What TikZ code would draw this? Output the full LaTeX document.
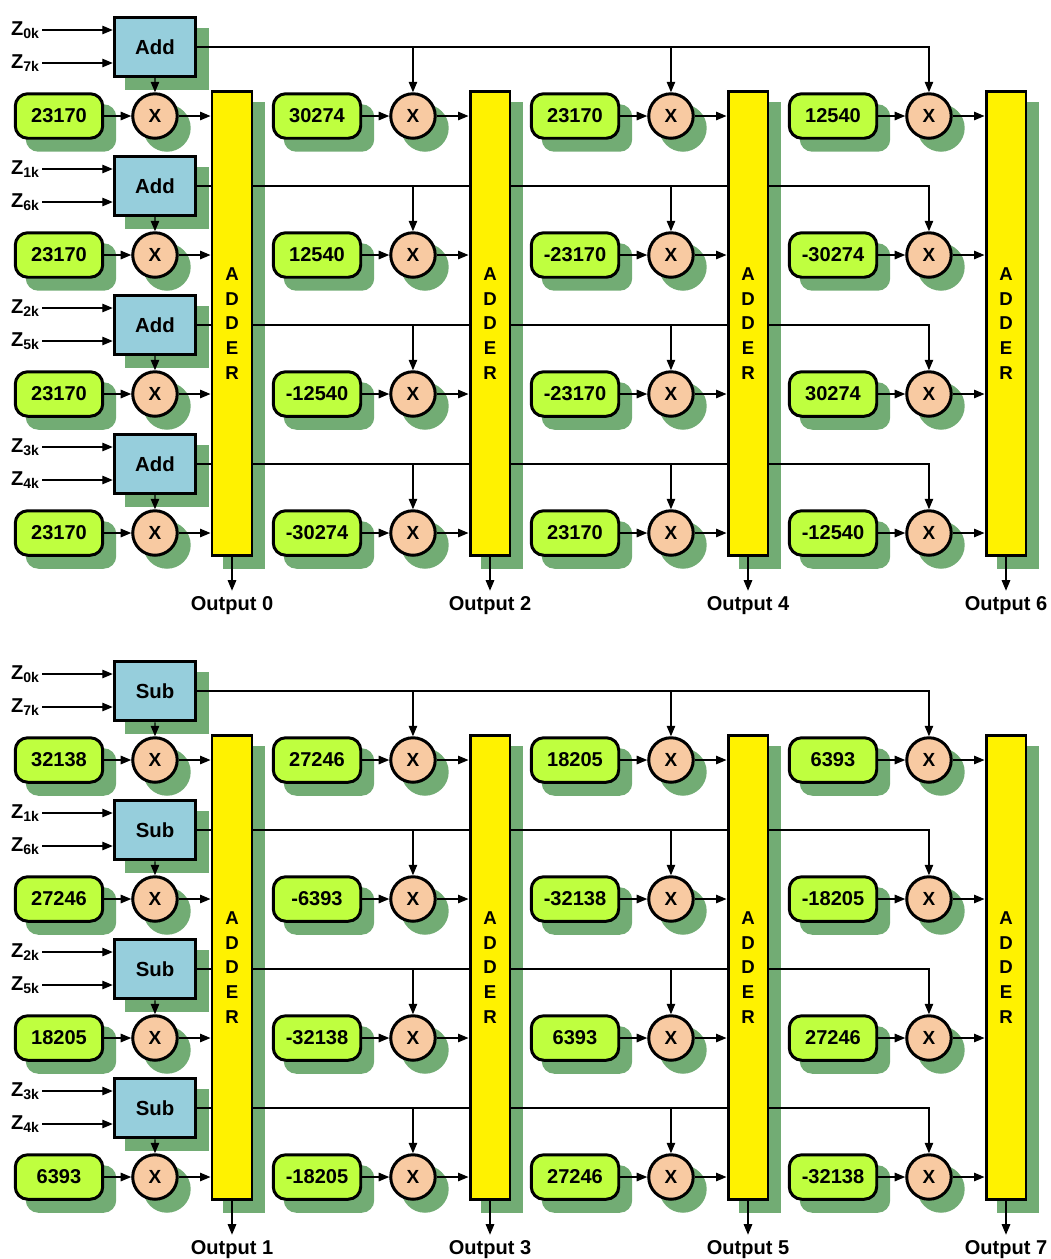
\documentclass[tikz,border=0pt]{standalone}
\usepackage{fontspec}
\setmainfont{Liberation Sans}
\usetikzlibrary{arrows.meta,positioning,calc}
\definecolor{coefgreen}{RGB}{191,255,63}
\definecolor{mulpeach}{RGB}{248,202,162}
\definecolor{addblue}{RGB}{150,206,220}
\definecolor{shadowgreen}{RGB}{114,172,116}
\pgfdeclarelayer{background}
\pgfdeclarelayer{wires}
\pgfsetlayers{background,wires,main}

\begin{document}
\begin{tikzpicture}[
    x=0.02cm, y=-0.02cm,
    font=\bfseries\fontsize{11.4}{13}\selectfont,
    coef/.style={
        draw,
        line width=1.7pt,
        fill=coefgreen,
        rounded corners=0.25cm,
        minimum width=1.75cm,
        minimum height=0.89cm
    },
    mul/.style={
        draw,
        circle,
        line width=1.7pt,
        fill=mulpeach,
        minimum size=0.89cm,
        inner sep=0pt,
        font=\bfseries\fontsize{10.8}{12}\selectfont
    },
    addbox/.style={
        draw,
        line width=1.7pt,
        fill=addblue,
        minimum width=1.63cm,
        minimum height=1.19cm,
        font=\bfseries\fontsize{11.6}{13}\selectfont
    },
    adder/.style={
        draw,
        line width=1.7pt,
        fill=yellow,
        minimum width=0.8cm,
        minimum height=9.3cm,
        align=center,
        font=\bfseries\fontsize{10.6}{14}\selectfont
    },
    zlabel/.style={anchor=east, inner sep=1pt},
    dropsh/.style={fill=shadowgreen},
    arrow/.style={-{Triangle[length=2.1mm, width=1.7mm]}, line width=0.7pt}
]
\useasboundingbox (0,0) rectangle (1051,1259);

% Add / Sub inputs
\foreach \h/\op in {0/Add,1/Sub} {
    \foreach \r in {0,...,3} {
        \pgfmathtruncatemacro\rb{7-\r}
        \node[addbox] (add\h\r) at (155, {47+139*\r+644*\h}) {\op};
        \node[zlabel] (za\h\r) at (42, {30+139*\r+644*\h}) {Z\textsubscript{\r k}};
        \node[zlabel] (zb\h\r) at (42, {63+139*\r+644*\h}) {Z\textsubscript{\rb k}};
        \draw[arrow] (za\h\r) -- (za\h\r -| add\h\r.west);
        \draw[arrow] (zb\h\r) -- (zb\h\r -| add\h\r.west);
    }
}

% coefficients, multipliers and adders
\foreach \h/\c/\va/\vb/\vc/\vd in {
    0/0/23170/23170/23170/23170,
    0/1/30274/12540/-12540/-30274,
    0/2/23170/-23170/-23170/23170,
    0/3/12540/-30274/30274/-12540,
    1/0/32138/27246/18205/6393,
    1/1/27246/-6393/-32138/-18205,
    1/2/18205/-32138/6393/27246,
    1/3/6393/-18205/27246/-32138} {
    \pgfmathtruncatemacro\outn{2*\c+\h}
    \node[adder] (adder\h\c) at ({232+258*\c}, {323.5+644*\h}) {A\\D\\D\\E\\R};
    \node (out\h\c) at ({232+258*\c}, {606+644*\h}) {Output \outn};
    \draw[arrow] (adder\h\c) -- (out\h\c);
    \foreach \r/\v in {0/\va,1/\vb,2/\vc,3/\vd} {
        \node[coef] (c\h\c\r) at ({59+258*\c}, {116+139*\r+644*\h}) {\v};
        \node[mul, right=0.54cm of c\h\c\r] (m\h\c\r) {X};
        \draw[arrow] (c\h\c\r) -- (m\h\c\r);
        \draw[arrow] (m\h\c\r) -- (m\h\c\r -| adder\h\c.west);
    }
}

% Add / Sub outputs to the multipliers
\begin{pgfonlayer}{wires}
\foreach \h in {0,1} {
    \foreach \r in {0,...,3} {
        \draw[arrow] (add\h\r) -- (m\h0\r);
        \draw[arrow] (add\h\r.east) -| (m\h3\r.north);
        \draw[arrow] (add\h\r.east -| m\h1\r.north) -- (m\h1\r.north);
        \draw[arrow] (add\h\r.east -| m\h2\r.north) -- (m\h2\r.north);
    }
}
\end{pgfonlayer}

% shadows
\begin{pgfonlayer}{background}
\foreach \h in {0,1} {
    \foreach \c in {0,...,3} {
        \fill[dropsh] ([shift={(12,12)}]adder\h\c.south west) rectangle ([shift={(12,12)}]adder\h\c.north east);
        \fill[dropsh] ([shift={(12,12)}]add\h\c.south west) rectangle ([shift={(12,12)}]add\h\c.north east);
        \foreach \r in {0,...,3} {
            \fill[dropsh, rounded corners=0.25cm] ([shift={(12,12)}]c\h\c\r.south west) rectangle ([shift={(12,12)}]c\h\c\r.north east);
            \fill[dropsh] ([shift={(12,12)}]m\h\c\r) circle[radius=0.475cm];
        }
    }
}
\end{pgfonlayer}
\end{tikzpicture}
\end{document}
